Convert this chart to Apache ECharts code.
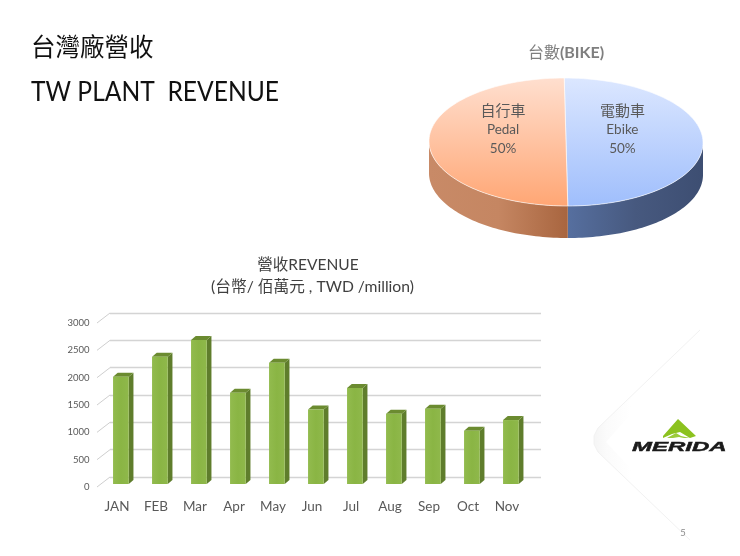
<!DOCTYPE html>
<html><head><meta charset="utf-8">
<style>html,body{margin:0;padding:0;background:#fff}#c{width:740px;height:556px}</style>
<script src="https://cdn.jsdelivr.net/npm/echarts@6/dist/echarts.min.js"></script>
</head><body><div id="c"></div>
<script>
const months = ['JAN','FEB','Mar','Apr','May','Jun','Jul','Aug','Sep','Oct','Nov'];
const revenue = [1960,2330,2635,1670,2220,1365,1755,1285,1377,975,1170];
const yTicks = [0,500,1000,1500,2000,2500,3000];
const pieLabelsCJK = ['電動車','自行車'];
const pieLabelsEN = ['Ebike','Pedal'];
const pieValues = [50,50];
const FONT = 'Lato,"Noto Sans CJK TC",sans-serif';

const chart = echarts.init(document.getElementById('c'), null, {renderer:'canvas'});
const total = pieValues.reduce((a,b)=>a+b,0);
const P = {cx:566, cy:142, rx:137, ry:64, depth:32, shear:0.028};
const pieFill = [
  {top:['#dce7ff','#9fbefc'], side:['#566f9f','#47597f','#3d4e72']},
  {top:['#ffdfcf','#ffa674'], side:['#c88a67','#c58662','#a8653f']}
];
function lin(stops,x0,y0,x1,y1){
  return new echarts.graphic.LinearGradient(x0,y0,x1,y1,stops.map((c,i)=>({offset:i/(stops.length-1),color:c})));
}
function pt(t,dy){
  const y=P.cy-P.ry*Math.cos(t);
  return [P.cx+P.rx*Math.sin(t)+(y-P.cy)*P.shear, y+(dy||0)];
}
function renderPie(params,api){
  const i=params.dataIndex;
  let start=0; for(let k=0;k<i;k++) start+=pieValues[k];
  const a0=start/total*2*Math.PI, a1=(start+api.value(0))/total*2*Math.PI;
  const top=[[P.cx,P.cy]];
  for(let n=0;n<=90;n++) top.push(pt(a0+(a1-a0)*n/90));
  const children=[];
  const s0=Math.max(a0,Math.PI/2), s1=Math.min(a1,Math.PI*1.5);
  if(s1>s0){
    const upper=[],lower=[];
    for(let n=0;n<=60;n++){const t=s0+(s1-s0)*n/60;upper.push(pt(t));lower.push(pt(t,P.depth));}
    children.push({type:'polygon',shape:{points:upper.concat(lower.reverse())},
      style:{fill:lin(pieFill[i].side,0,0,1,0)}});
  }
  children.push({type:'polygon',shape:{points:top},style:{fill:lin(pieFill[i].top,0,0,0,1),stroke:'#fff',lineWidth:0.6}});
  const mid=(a0+a1)/2;
  children.push({type:'text',style:{
    x:P.cx+P.rx*0.43*Math.sin(mid)-(i?4:2.5),y:129.5,align:'center',verticalAlign:'middle',
    text:'{a|'+pieLabelsCJK[i]+'}\n{b|'+pieLabelsEN[i]+'}\n{b|'+api.value(0)+'%}',
    rich:{a:{fontFamily:FONT,fontSize:15,fill:'#595959',lineHeight:19,align:'center'},
          b:{fontFamily:FONT,fontSize:13.5,fill:'#595959',lineHeight:18.5,align:'center'}}}});
  return {type:'group',children};
}
function renderBar(params,api){
  const top=api.coord([api.value(0),api.value(1)]);
  const base=api.coord([api.value(0),0]);
  const w=15.7, dx=4.7, dy=4, l=top[0]+3.9-w/2, r=l+w, yb=base[1]-3, yt=top[1]-3;
  return {type:'group',children:[
    {type:'polygon',shape:{points:[[r,yt],[r+dx,yt-dy],[r+dx,yb-dy],[r,yb]]},style:{fill:'#5f7d2c'}},
    {type:'polygon',shape:{points:[[l,yt],[l+dx,yt-dy],[r+dx,yt-dy],[r,yt]]},style:{fill:'#6b8b30'}},
    {type:'rect',shape:{x:l,y:yt,width:w,height:yb-yt},style:{fill:lin(['#92bb4e','#8ab544','#8fb84b'],0,0,1,0)}}
  ]};
}
function renderTick(params,api){
  const a=api.coord([0,api.value(0)]);
  const x=a[0]-20;
  return {type:'line',shape:{x1:x,y1:a[1],x2:x+13,y2:a[1]-10},style:{stroke:'#cfcfcf',lineWidth:1}};
}
const txt=(x,y,text,size,fill,extra,scaleX)=>({type:'text',x,y,scaleX:scaleX||1,style:Object.assign({text,fontSize:size,fontFamily:FONT,fill,verticalAlign:'middle'},extra||{})});

chart.setOption({
  animation:false,
  backgroundColor:'#fff',
  grid:[
    {left:97.5,right:213.5,top:323,bottom:69},
    {left:110,right:199,top:313,bottom:79}
  ],
  xAxis:[
    {type:'category',gridIndex:0,data:months,axisLine:{show:false},axisTick:{show:false},
     axisLabel:{color:'#595959',fontSize:13.5,fontFamily:FONT,margin:13,interval:0}},
    {type:'category',gridIndex:1,data:months,show:false}
  ],
  yAxis:[
    {type:'value',gridIndex:0,min:0,max:3000,interval:500,axisLine:{show:false},axisTick:{show:false},
     splitLine:{show:false},axisLabel:{color:'#595959',fontSize:9.5,fontFamily:FONT,margin:8,padding:[4,0,0,0],formatter:v=>String(v)}},
    {type:'value',gridIndex:1,min:0,max:3000,interval:500,axisLine:{show:false},axisTick:{show:false},
     axisLabel:{show:false},splitLine:{show:true,lineStyle:{color:'#d4d4d4',width:1.4}}}
  ],
  series:[
    {type:'custom',name:'tick',xAxisIndex:0,yAxisIndex:0,data:yTicks.map(v=>[v]),encode:{y:0},renderItem:renderTick,silent:true,z:1},
    {type:'custom',name:'REVENUE',xAxisIndex:0,yAxisIndex:0,data:months.map((m,i)=>[i,revenue[i]]),encode:{x:0,y:1},renderItem:renderBar,z:3},
    {type:'custom',name:'BIKE',coordinateSystem:'none',data:pieValues.map(v=>[v]),renderItem:renderPie,z:3}
  ],
  graphic:[
    {type:'polygon',z:0,shape:{points:[[700,330],[598,428],[594,436],[594,444],[598,452],[690,540],[640,478],[606,442],[640,404]]},
     style:{fill:new echarts.graphic.LinearGradient(0,0,1,0,[{offset:0,color:'#f5f5f5'},{offset:0.12,color:'#fbfbfb'},{offset:0.35,color:'#ffffff'},{offset:1,color:'#ffffff'}])}},
    {type:'polyline',z:0,shape:{points:[[700,330],[598,428],[594,436],[594,444],[598,452],[690,540]]},
     style:{fill:'none',stroke:'#f2f2f2',lineWidth:1}},
    {type:'polygon',z:5,shape:{points:[[678,419],[696,436],[690,438],[680,432],[672,434],[663,438],[663,436]]},style:{fill:'#8cc21f'}},
    {type:'polygon',z:5,shape:{points:[[667,438],[676,433],[681,436],[690,438],[684,438],[679,437],[673,438]]},style:{fill:'#9ccb3b'}},
    {type:'text',z:5,x:632,y:447.5,scaleX:1.92,style:{text:'MERIDA',fontSize:12.5,fontWeight:'bold',fontStyle:'italic',fontFamily:'"Liberation Sans"',fill:'#1a1a1a',stroke:'#1a1a1a',lineWidth:0.4,verticalAlign:'middle'}},
    txt(31,48,'台灣廠營收',24.5,'#111'),
    txt(31,92,'TW PLANT  REVENUE',27,'#111',null,0.912),
    {type:'text',x:566,y:53,style:{text:'台數{b|(BIKE)}',align:'center',verticalAlign:'middle',fontSize:16,fontFamily:FONT,fill:'#7f7f7f',
      rich:{b:{fontSize:16,fontWeight:'bold',fontFamily:FONT,fill:'#7f7f7f'}}}},
    txt(308,265,'營收REVENUE',15.5,'#404040',{align:'center'}),
    txt(312.5,287,'(台幣/ 佰萬元 , TWD /million)',15.7,'#404040',{align:'center'}),
    txt(683,533,'5',9.5,'#8c8c8c',{align:'center'})
  ]
});
</script></body></html>
